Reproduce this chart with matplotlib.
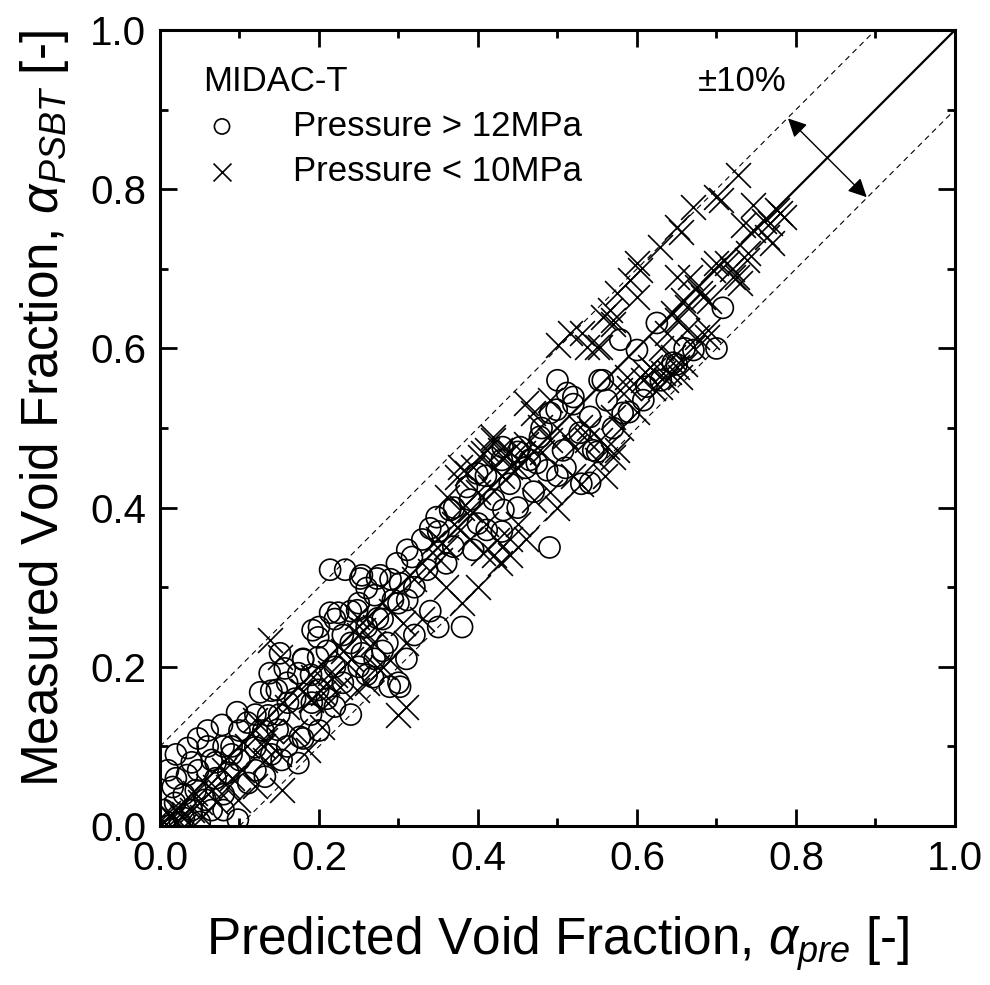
import matplotlib.pyplot as plt
import matplotlib as mpl

mpl.rcParams['font.family'] = ['Liberation Sans', 'DejaVu Sans']
mpl.rcParams['mathtext.fontset'] = 'custom'
mpl.rcParams['mathtext.rm'] = 'Liberation Sans'
mpl.rcParams['mathtext.it'] = 'Liberation Sans:italic'

# Pressure > 12MPa (circles): predicted, measured
hp_pred = [0.138, 0.174, 0.126, 0.157, 0.097, 0.078, 0.048, 0.035, 0.010, 0.034,
           0.016, 0.065, 0.100, 0.120, 0.136, 0.148, 0.153, 0.174, 0.176, 0.191,
           0.199, 0.057, 0.098, 0.019, 0.048, 0.086, 0.132, 0.111, 0.161, 0.005,
           0.010, 0.020, 0.060, 0.070, 0.030, 0.040, 0.080, 0.090, 0.110, 0.120,
           0.025, 0.045, 0.065,
           0.233, 0.252, 0.273, 0.260, 0.298, 0.311, 0.214, 0.224, 0.248, 0.274,
           0.192, 0.199, 0.180, 0.199, 0.151, 0.147, 0.254, 0.286, 0.293, 0.302,
           0.268, 0.289, 0.302, 0.311, 0.214,
           0.254, 0.277, 0.317, 0.340, 0.348, 0.365, 0.390, 0.386, 0.399, 0.411,
           0.432, 0.394, 0.369, 0.336,
           0.512, 0.520, 0.553, 0.499, 0.491, 0.541, 0.528, 0.545, 0.478, 0.453,
           0.465, 0.431, 0.562, 0.500,
           0.708, 0.625, 0.579, 0.600, 0.671, 0.557, 0.645, 0.612, 0.608, 0.582,
           0.507, 0.474, 0.487, 0.541,
           0.430, 0.450, 0.470, 0.490, 0.500, 0.510, 0.530, 0.550, 0.570, 0.590,
           0.630, 0.650, 0.660, 0.700, 0.350, 0.340, 0.320, 0.300, 0.310, 0.280,
           0.260, 0.240, 0.220, 0.200, 0.180, 0.380, 0.360, 0.400, 0.420, 0.440,
           0.460, 0.220, 0.240, 0.260, 0.280, 0.300, 0.320, 0.230, 0.250, 0.210,
           0.170, 0.150, 0.190, 0.130, 0.090, 0.070,
           0.020, 0.040, 0.060, 0.080, 0.100, 0.140, 0.160, 0.180, 0.200, 0.220,
           0.240, 0.270, 0.290, 0.330, 0.350, 0.370, 0.410, 0.430, 0.450, 0.480,
           0.520, 0.030, 0.050, 0.080, 0.120, 0.140, 0.160, 0.190, 0.210, 0.230,
           0.250, 0.270]
hp_meas = [0.192, 0.192, 0.168, 0.198, 0.143, 0.127, 0.110, 0.098, 0.070, 0.064,
           0.049, 0.083, 0.083, 0.099, 0.139, 0.121, 0.083, 0.079, 0.112, 0.155,
           0.171, 0.033, 0.008, 0.029, 0.070, 0.067, 0.062, 0.054, 0.155, 0.020,
           0.000, 0.090, 0.100, 0.060, 0.040, 0.020, 0.040, 0.100, 0.130, 0.140,
           0.005, 0.045, 0.020,
           0.322, 0.311, 0.311, 0.299, 0.330, 0.347, 0.268, 0.268, 0.271, 0.261,
           0.246, 0.237, 0.209, 0.212, 0.217, 0.171, 0.217, 0.230, 0.284, 0.305,
           0.187, 0.175, 0.175, 0.284, 0.322,
           0.315, 0.315, 0.338, 0.374, 0.388, 0.397, 0.410, 0.426, 0.443, 0.372,
           0.397, 0.347, 0.351, 0.322,
           0.544, 0.539, 0.560, 0.523, 0.519, 0.514, 0.494, 0.472, 0.489, 0.476,
           0.460, 0.476, 0.535, 0.560,
           0.651, 0.632, 0.611, 0.598, 0.598, 0.560, 0.582, 0.552, 0.535, 0.519,
           0.472, 0.456, 0.447, 0.431,
           0.370, 0.400, 0.420, 0.350, 0.440, 0.450, 0.430, 0.470, 0.500, 0.520,
           0.560, 0.580, 0.600, 0.600, 0.250, 0.270, 0.240, 0.180, 0.210, 0.220,
           0.190, 0.140, 0.150, 0.120, 0.110, 0.250, 0.330, 0.380, 0.410, 0.430,
           0.450, 0.200, 0.230, 0.250, 0.260, 0.280, 0.300, 0.240, 0.280, 0.220,
           0.160, 0.140, 0.190, 0.120, 0.090, 0.080,
           0.060, 0.080, 0.120, 0.100, 0.120, 0.170, 0.180, 0.210, 0.250, 0.260,
           0.270, 0.290, 0.310, 0.360, 0.370, 0.400, 0.440, 0.460, 0.470, 0.500,
           0.530, 0.010, 0.005, 0.020, 0.070, 0.090, 0.100, 0.140, 0.160, 0.180,
           0.200, 0.210]

# Pressure < 10MPa (crosses): predicted, measured
lp_pred = [0.120, 0.132, 0.153, 0.098, 0.132, 0.186, 0.204, 0.044, 0.069, 0.010,
           0.028, 0.086, 0.103, 0.190, 0.211, 0.053, 0.005, 0.010, 0.015, 0.020,
           0.000, 0.030, 0.000, 0.040,
           0.138, 0.151, 0.248, 0.256, 0.268, 0.306, 0.214, 0.235, 0.192, 0.289,
           0.226, 0.248, 0.273, 0.205,
           0.361, 0.374, 0.394, 0.403, 0.419, 0.428, 0.411, 0.390, 0.343, 0.377,
           0.406, 0.424, 0.428, 0.352, 0.415,
           0.501, 0.516, 0.531, 0.537, 0.553, 0.570, 0.566, 0.461, 0.491, 0.478,
           0.419, 0.406, 0.431, 0.440, 0.457, 0.491, 0.521, 0.537, 0.562, 0.570,
           0.570, 0.386, 0.377,
           0.650, 0.629, 0.600, 0.591, 0.604, 0.575, 0.600, 0.557, 0.570, 0.550,
           0.650, 0.675, 0.696, 0.713, 0.721, 0.663, 0.683, 0.650, 0.638, 0.663,
           0.671, 0.688, 0.616, 0.633, 0.650, 0.608, 0.629, 0.587, 0.579,
           0.727, 0.700, 0.706, 0.671, 0.656, 0.746, 0.776, 0.785, 0.733, 0.746,
           0.767, 0.763, 0.770, 0.700, 0.738, 0.667, 0.726, 0.730, 0.679, 0.658,
           0.645,
           0.575, 0.553, 0.528, 0.469, 0.620, 0.637, 0.654, 0.645, 0.675, 0.689,
           0.420, 0.440, 0.450, 0.470, 0.490, 0.500, 0.520, 0.530, 0.550, 0.560,
           0.580, 0.600, 0.620, 0.640, 0.660, 0.400, 0.380, 0.360, 0.330, 0.310,
           0.300, 0.310, 0.280, 0.260, 0.440, 0.460, 0.320, 0.340, 0.360, 0.230,
           0.250, 0.180, 0.160, 0.140, 0.110, 0.080, 0.060, 0.120, 0.150, 0.170,
           0.210,
           0.430, 0.450, 0.460, 0.480, 0.440, 0.420, 0.400, 0.380, 0.370, 0.350,
           0.390, 0.410, 0.290, 0.270, 0.240, 0.220, 0.190, 0.130, 0.090, 0.070,
           0.050, 0.020, 0.030, 0.510, 0.540, 0.590, 0.610, 0.630, 0.690, 0.720,
           0.740, 0.760, 0.780]
lp_meas = [0.133, 0.083, 0.045, 0.033, 0.108, 0.095, 0.124, 0.041, 0.049, 0.016,
           0.011, 0.049, 0.070, 0.158, 0.155, 0.011, 0.005, 0.000, 0.010, 0.005,
           0.010, 0.000, 0.000, 0.020,
           0.234, 0.212, 0.263, 0.246, 0.230, 0.255, 0.192, 0.205, 0.187, 0.209,
           0.175, 0.171, 0.200, 0.167,
           0.413, 0.438, 0.451, 0.464, 0.489, 0.472, 0.472, 0.397, 0.356, 0.372,
           0.343, 0.359, 0.330, 0.334, 0.426,
           0.604, 0.619, 0.619, 0.602, 0.602, 0.636, 0.648, 0.531, 0.535, 0.501,
           0.485, 0.469, 0.464, 0.451, 0.469, 0.485, 0.476, 0.485, 0.476, 0.514,
           0.464, 0.443, 0.451,
           0.753, 0.727, 0.707, 0.686, 0.698, 0.670, 0.665, 0.639, 0.631, 0.602,
           0.690, 0.677, 0.698, 0.707, 0.690, 0.652, 0.665, 0.636, 0.619, 0.623,
           0.602, 0.614, 0.577, 0.569, 0.577, 0.560, 0.552, 0.564, 0.548,
           0.818, 0.790, 0.786, 0.778, 0.746, 0.780, 0.774, 0.765, 0.755, 0.749,
           0.758, 0.740, 0.732, 0.707, 0.711, 0.690, 0.690, 0.682, 0.670, 0.661,
           0.644,
           0.472, 0.485, 0.501, 0.519, 0.573, 0.560, 0.564, 0.589, 0.614, 0.623,
           0.340, 0.360, 0.380, 0.410, 0.420, 0.400, 0.440, 0.430, 0.460, 0.440,
           0.500, 0.520, 0.550, 0.570, 0.580, 0.300, 0.280, 0.300, 0.260, 0.230,
           0.140, 0.150, 0.200, 0.180, 0.340, 0.360, 0.310, 0.320, 0.350, 0.220,
           0.240, 0.170, 0.150, 0.120, 0.100, 0.070, 0.050, 0.050, 0.090, 0.120,
           0.180,
           0.440, 0.450, 0.480, 0.470, 0.470, 0.450, 0.420, 0.400, 0.380, 0.360,
           0.360, 0.380, 0.270, 0.250, 0.210, 0.190, 0.160, 0.100, 0.060, 0.030,
           0.030, 0.020, 0.015, 0.490, 0.500, 0.550, 0.570, 0.600, 0.660, 0.700,
           0.720, 0.760, 0.770]

fig = plt.figure(figsize=(9.9, 9.85), dpi=100)
ax = fig.add_axes([0.1616, 0.1614, 0.8030, 0.8081])

ax.plot([0, 1], [0, 1], color='k', lw=1.6, zorder=1)
ax.plot([0, 0.9], [0.1, 1.0], color='k', lw=0.8, ls=(0, (5, 4)), zorder=1)
ax.plot([0.1, 1.0], [0, 0.9], color='k', lw=0.8, ls=(0, (5, 4)), zorder=1)

ax.scatter(hp_pred, hp_meas, s=230, facecolors='none', edgecolors='k',
           linewidths=1.2, marker='o', label='Pressure > 12MPa', zorder=2)
ax.scatter(lp_pred, lp_meas, s=320, color='k', linewidths=1.2, marker='x',
           label='Pressure < 10MPa', zorder=2)

ax.annotate('', xy=(0.790, 0.889), xytext=(0.889, 0.790),
            arrowprops=dict(arrowstyle='<|-|>', color='k', lw=1.0,
                            mutation_scale=28, shrinkA=0, shrinkB=0))
ax.text(0.677, 0.935, '±10%', fontsize=25, ha='left', va='center')
ax.text(0.054, 0.935, 'MIDAC-T', fontsize=25, ha='left', va='center')

ax.legend(loc='center left', bbox_to_anchor=(0.054, 0.851), frameon=False,
          fontsize=25, handletextpad=1.5, labelspacing=0.35,
          borderpad=0, borderaxespad=0, handlelength=1.1, markerscale=0.72)

ax.set_xlim(0, 1)
ax.set_ylim(0, 1)
ax.set_xticks([0, 0.2, 0.4, 0.6, 0.8, 1.0])
ax.set_yticks([0, 0.2, 0.4, 0.6, 0.8, 1.0])
ax.set_xticks([0.1, 0.3, 0.5, 0.7, 0.9], minor=True)
ax.set_yticks([0.1, 0.3, 0.5, 0.7, 0.9], minor=True)
ax.tick_params(which='both', direction='in', top=True, right=True, width=2.0)
ax.tick_params(which='major', length=12, labelsize=29, pad=10)
ax.tick_params(which='minor', length=6)
for sp in ax.spines.values():
    sp.set_linewidth(2.2)

ax.set_xlabel(r'Predicted Void Fraction, $\alpha_{pre}$ [-]', fontsize=37, labelpad=26)
ax.set_ylabel(r'Measured Void Fraction, $\alpha_{PSBT}$ [-]', fontsize=37, labelpad=12)
ax.yaxis.set_label_coords(-0.112, 0.525)

fig.savefig('out.png', dpi=100)
